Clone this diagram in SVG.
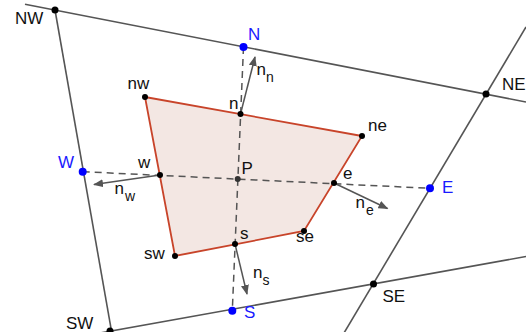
<svg xmlns="http://www.w3.org/2000/svg" width="526" height="332" viewBox="0 0 526 332">
<style>
.grid{stroke:#555;stroke-width:1.6;fill:none}
.dash{stroke:#555;stroke-width:1.5;stroke-dasharray:7,5;fill:none}
.vec{stroke:#555;stroke-width:1.5;fill:none;marker-end:url(#ah)}
.poly{fill:#f3e7e3;stroke:#c8442a;stroke-width:1.8}
.pt{fill:#000}
.bpt{fill:#0000ff}
text{font-family:"Liberation Sans",Arial,sans-serif;font-size:17px;fill:#111}
.blue{fill:#1a1aff}
.sub{font-size:14px}
</style>
<defs>
<marker id="ah" viewBox="0 0 10 8" refX="9" refY="4" markerWidth="10" markerHeight="8" markerUnits="userSpaceOnUse" orient="auto">
<path d="M0,0 L10,4 L0,8 Z" fill="#555"/>
</marker>
</defs>
<rect width="526" height="332" fill="#fff"/>
<g id="gridlines">
<line class="grid" x1="25" y1="4.2" x2="526" y2="102"/>
<line class="grid" x1="55" y1="10" x2="112" y2="334"/>
<line class="grid" x1="100" y1="333" x2="526" y2="256.5"/>
<line class="grid" x1="526" y1="27" x2="344" y2="333"/>
</g>
<g id="cell">
<polygon class="poly" points="145,97 362,136 304,231 175,256"/>
</g>
<g id="connectors">
<line class="dash" x1="243.5" y1="47" x2="232.3" y2="310.7"/>
<line class="dash" x1="82.7" y1="171.7" x2="430" y2="188.3"/>
<line class="vec" x1="240.5" y1="114" x2="255" y2="57"/>
<line class="vec" x1="160" y1="175" x2="94" y2="184.5"/>
<line class="vec" x1="334" y1="183" x2="387.5" y2="208.5"/>
<line class="vec" x1="235" y1="244" x2="247" y2="294"/>
</g>
<g id="NW"><circle class="pt" cx="55" cy="10" r="3.5"/><text x="15" y="24">NW</text></g>
<g id="NE"><circle class="pt" cx="486" cy="94" r="3.5"/><text x="502" y="90">NE</text></g>
<g id="SW"><circle class="pt" cx="110" cy="331" r="3.5"/><text x="66" y="328.5">SW</text></g>
<g id="SE"><circle class="pt" cx="373.5" cy="284" r="3.5"/><text x="382.5" y="302">SE</text></g>
<g id="N"><circle class="bpt" cx="243.5" cy="47" r="4"/><text class="blue" x="248" y="39.5">N</text></g>
<g id="W"><circle class="bpt" cx="82.7" cy="171.7" r="4"/><text class="blue" x="58" y="167.5">W</text></g>
<g id="E"><circle class="bpt" cx="430" cy="188.3" r="4"/><text class="blue" x="442" y="193">E</text></g>
<g id="S"><circle class="bpt" cx="232.3" cy="310.7" r="4"/><text class="blue" x="244" y="318">S</text></g>
<g id="nw"><circle class="pt" cx="145" cy="97" r="3"/><text x="127.5" y="89">nw</text></g>
<g id="ne"><circle class="pt" cx="362" cy="136" r="3"/><text x="368" y="131">ne</text></g>
<g id="se"><circle class="pt" cx="304" cy="231" r="3"/><text x="296" y="242">se</text></g>
<g id="sw"><circle class="pt" cx="175" cy="256" r="3"/><text x="144" y="258.5">sw</text></g>
<g id="n"><circle class="pt" cx="240.5" cy="114" r="3"/><text x="229" y="108.5">n</text></g>
<g id="e"><circle class="pt" cx="334" cy="183" r="3"/><text x="343" y="179">e</text></g>
<g id="s"><circle class="pt" cx="235" cy="244" r="3"/><text x="240" y="238.5">s</text></g>
<g id="w"><circle class="pt" cx="160" cy="175" r="3"/><text x="138" y="167.5">w</text></g>
<g id="P"><circle cx="237.7" cy="179" r="3" fill="#333"/><text x="241.5" y="173.5" fill="#333">P</text></g>
<g id="nn"><text x="256.5" y="75">n<tspan class="sub" x="266" y="82">n</tspan></text></g>
<g id="nwv"><text x="114.5" y="193.5">n<tspan class="sub" x="125" y="201">w</tspan></text></g>
<g id="nev"><text x="355.5" y="207.5">n<tspan class="sub" x="366" y="214.5">e</tspan></text></g>
<g id="nsv"><text x="253" y="277.5">n<tspan class="sub" x="262.5" y="284.5">s</tspan></text></g>
</svg>
